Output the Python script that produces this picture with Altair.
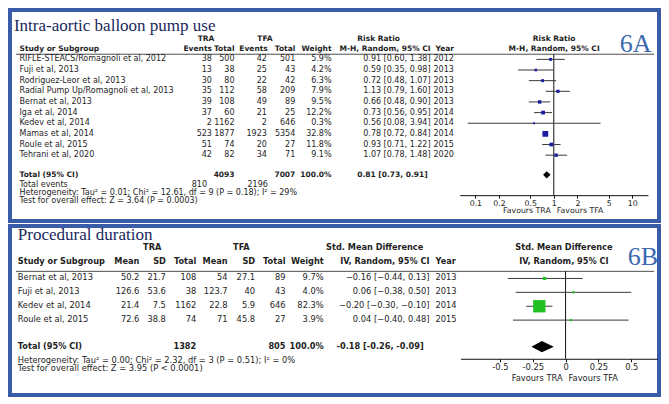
import altair as alt
import pandas as pd

# ---------------- data: panel A (Intra-aortic balloon pump use) ----------------
a_study = ["RIFLE-STEACS/Romagnoli et al, 2012", "Fuji et al, 2013", "Rodriguez-Leor et al, 2013",
           "Radial Pump Up/Romagnoli et al, 2013", "Bernat et al, 2013", "Iga et al, 2014",
           "Kedev et al, 2014", "Mamas et al, 2014", "Roule et al, 2015", "Tehrani et al, 2020"]
a_tra_events = [38, 13, 30, 35, 39, 37, 2, 523, 51, 42]
a_tra_total = [500, 38, 80, 112, 108, 60, 1162, 1877, 74, 82]
a_tfa_events = [42, 25, 22, 58, 49, 21, 2, 1923, 20, 34]
a_tfa_total = [501, 43, 42, 209, 89, 25, 646, 5354, 27, 71]
a_weight = [5.9, 4.2, 6.3, 7.9, 9.5, 12.2, 0.3, 32.8, 11.8, 9.1]
a_rr = [0.91, 0.59, 0.72, 1.13, 0.66, 0.73, 0.56, 0.78, 0.93, 1.07]
a_lo = [0.60, 0.35, 0.48, 0.79, 0.48, 0.56, 0.08, 0.72, 0.71, 0.78]
a_hi = [1.38, 0.98, 1.07, 1.60, 0.90, 0.95, 3.94, 0.84, 1.22, 1.48]
a_year = [2012, 2013, 2013, 2013, 2013, 2014, 2014, 2014, 2015, 2020]
a_sum_tra_total, a_sum_tfa_total = 4093, 7007
a_sum_tra_events, a_sum_tfa_events = 810, 2196
a_pooled = [0.81, 0.73, 0.91]
a_het = "Heterogeneity: Tau² = 0.01; Chi² = 12.61, df = 9 (P = 0.18); I² = 29%"
a_test = "Test for overall effect: Z = 3.64 (P = 0.0003)"
a_ticks = [0.1, 0.2, 0.5, 1, 2, 5, 10]

# ---------------- data: panel B (Procedural duration) ----------------
b_study = ["Bernat et al, 2013", "Fuji et al, 2013", "Kedev et al, 2014", "Roule et al, 2015"]
b_tra_mean = [50.2, 126.6, 21.4, 72.6]
b_tra_sd = [21.7, 53.6, 7.5, 38.8]
b_tra_n = [108, 38, 1162, 74]
b_tfa_mean = [54, 123.7, 22.8, 71]
b_tfa_sd = [27.1, 40, 5.9, 45.8]
b_tfa_n = [89, 43, 646, 27]
b_weight = [9.7, 4.0, 82.3, 3.9]
b_smd = [-0.16, 0.06, -0.20, 0.04]
b_lo = [-0.44, -0.38, -0.30, -0.40]
b_hi = [0.13, 0.50, -0.10, 0.48]
b_year = [2013, 2013, 2014, 2015]
b_sum_tra_n, b_sum_tfa_n = 1382, 805
b_pooled = [-0.18, -0.26, -0.09]
b_het = "Heterogeneity: Tau² = 0.00; Chi² = 2.32, df = 3 (P = 0.51); I² = 0%"
b_test = "Test for overall effect: Z = 3.95 (P < 0.0001)"
b_ticks = [-0.5, -0.25, 0, 0.25, 0.5]

# ---------------- layout / style ----------------
SANS = "DejaVu Sans"
SERIF = "Liberation Serif"
INK = "#1e1e1e"
W = 649
HA, HB = 211, 169
XS = alt.Scale(domain=[2, 664], range=[0, W], nice=False, zero=False)
YA = alt.Scale(domain=[2, 220], range=[0, HA], nice=False, zero=False)
YB = alt.Scale(domain=[226, 400], range=[0, HB], nice=False, zero=False)
sx = W / 662.0

STYLES = {
    "a": dict(font=SANS, fontSize=8.0, color=INK),
    "ab": dict(font=SANS, fontSize=7.5, fontWeight="bold", color=INK),
    "b": dict(font=SANS, fontSize=8.3, color=INK),
    "bb": dict(font=SANS, fontSize=8.2, fontWeight="bold", color=INK),
    "title": dict(font=SERIF, fontSize=17, color="#18285e", baseline="alphabetic"),
    "tag": dict(font=SERIF, fontSize=26, color="#3b68b0", baseline="alphabetic"),
}


def num(v):
    return f"{v:g}"


def pct(v):
    return f"{v:.1f}%"


def ci(e, l, h, minus="\u2212"):
    return f"{e:.2f} [{l:.2f}, {h:.2f}]".replace("-", minus)


def text_layers(cells, YS):
    df = pd.DataFrame(cells, columns=["x", "y", "t", "align", "style"])
    layers = []
    for (al, st), g in df.groupby(["align", "style"], sort=False):
        s = dict(STYLES[st])
        base = s.pop("baseline", "middle")
        layers.append(
            alt.Chart(g[["x", "y", "t"]].reset_index(drop=True))
            .mark_text(align=al, baseline=base, **s)
            .encode(x=alt.X("x:Q", scale=XS, axis=None),
                    y=alt.Y("y:Q", scale=YS, axis=None),
                    text=alt.Text("t:N"))
        )
    return layers


def rules_layer(rows, YS):
    df = pd.DataFrame(rows, columns=["x", "x2", "y"])
    return alt.Chart(df).mark_rule(color="#222222", strokeWidth=0.8).encode(
        x=alt.X("x:Q", scale=XS, axis=None), x2="x2:Q", y=alt.Y("y:Q", scale=YS, axis=None))


def forest_layers(est, lo, hi, w, ys, pooled, ytot, dh, null, FS, YS, color, size_scale,
                  ticks, axis_offset, yline, fav_y, fsize):
    df = pd.DataFrame({"est": est, "lo": lo, "hi": hi, "w": w, "y": ys})
    ci_l = alt.Chart(df).mark_rule(color="#3a3a3a", strokeWidth=1).encode(
        x=alt.X("lo:Q", scale=FS, axis=None), x2="hi:Q", y=alt.Y("y:Q", scale=YS, axis=None))
    sq = alt.Chart(df).mark_square(filled=True, color=color, opacity=1).encode(
        x=alt.X("est:Q", scale=FS, axis=None), y=alt.Y("y:Q", scale=YS, axis=None),
        size=alt.Size("w:Q", scale=size_scale, legend=None))
    nl = alt.Chart(pd.DataFrame({"v": [null], "y1": [yline[0]], "y2": [yline[1]]})).mark_rule(
        color="#111111", strokeWidth=1).encode(
        x=alt.X("v:Q", scale=FS, axis=alt.Axis(
            values=ticks, labelExpr="'' + datum.value", offset=axis_offset, orient="bottom",
            title=None, grid=False, domainColor="#111111", tickColor="#111111", tickSize=3,
            domainWidth=1, tickWidth=1, labelFont=SANS, labelFontSize=fsize, labelColor=INK,
            labelPadding=1, labelFlush=False, labelOverlap=False)),
        y=alt.Y("y1:Q", scale=YS, axis=None), y2="y2:Q")
    e, l, h = pooled
    dm = pd.DataFrame({"x": [l, e, h], "yt": [ytot, ytot - dh, ytot], "yb": [ytot, ytot + dh, ytot]})
    dia = alt.Chart(dm).mark_area(color="black", opacity=1).encode(
        x=alt.X("x:Q", scale=FS, axis=None), y=alt.Y("yt:Q", scale=YS, axis=None), y2="yb:Q")
    fav_l = alt.Chart(pd.DataFrame({"x": [null], "y": [fav_y], "t": ["Favours TRA"]})).mark_text(
        align="right", baseline="middle", dx=-3, font=SANS, fontSize=fsize, color=INK).encode(
        x=alt.X("x:Q", scale=FS, axis=None), y=alt.Y("y:Q", scale=YS, axis=None), text="t:N")
    fav_r = alt.Chart(pd.DataFrame({"x": [null], "y": [fav_y], "t": ["Favours TFA"]})).mark_text(
        align="left", baseline="middle", dx=3, font=SANS, fontSize=fsize, color=INK).encode(
        x=alt.X("x:Q", scale=FS, axis=None), y=alt.Y("y:Q", scale=YS, axis=None), text="t:N")
    return [nl, ci_l, sq, dia, fav_l, fav_r]


# ---------------- panel A ----------------
a_y = [53.0 + 11.0 * i for i in range(len(a_study))]
ca = []
ca.append((6, 23.5, "Intra-aortic balloon pump use", "left", "title"))
ca.append((624, 45, "6A", "left", "tag"))
for x, t in [(202, "TRA"), (262, "TFA"), (378, "Risk Ratio"), (557, "Risk Ratio")]:
    ca.append((x, 32, t, "center", "ab"))
ca.append((11.7, 42, "Study or Subgroup", "left", "ab"))
for x, t in [(208, "Events"), (231, "Total"), (265, "Events"), (293, "Total"), (330, "Weight"),
             (431, "M-H, Random, 95% CI")]:
    ca.append((x, 42, t, "right", "ab"))
ca.append((436, 42, "Year", "left", "ab"))
ca.append((557, 42, "M-H, Random, 95% CI", "center", "ab"))
for i, y in enumerate(a_y):
    ca.append((11.7, y, a_study[i], "left", "a"))
    ca.append((208, y, num(a_tra_events[i]), "right", "a"))
    ca.append((231, y, num(a_tra_total[i]), "right", "a"))
    ca.append((264, y, num(a_tfa_events[i]), "right", "a"))
    ca.append((293, y, num(a_tfa_total[i]), "right", "a"))
    ca.append((330, y, pct(a_weight[i]), "right", "a"))
    ca.append((431, y, ci(a_rr[i], a_lo[i], a_hi[i]), "right", "a"))
    ca.append((434, y, str(a_year[i]), "left", "a"))
ya_tot = 172.3
ca.append((11.7, ya_tot, "Total (95% CI)", "left", "ab"))
ca.append((231, ya_tot, num(a_sum_tra_total), "right", "ab"))
ca.append((293, ya_tot, num(a_sum_tfa_total), "right", "ab"))
ca.append((330, ya_tot, pct(100.0), "right", "ab"))
ca.append((428, ya_tot, ci(*a_pooled), "right", "ab"))
ca.append((11.7, 183.3, "Total events", "left", "a"))
ca.append((203, 183.3, num(a_sum_tra_events), "right", "a"))
ca.append((265, 183.3, num(a_sum_tfa_events), "right", "a"))
ca.append((11.7, 191.3, a_het, "left", "a"))
ca.append((11.7, 199.3, a_test, "left", "a"))

FA = alt.Scale(type="log", domain=[10 ** -1.2, 10 ** 1.2],
               range=[(460.7 - 2) * sx, (652.7 - 2) * sx], nice=False, zero=False)
la = [rules_layer([(8, 659, 47.7)], YA)]
la += forest_layers(a_rr, a_lo, a_hi, a_weight, a_y, a_pooled, ya_tot, 3.8, 1, FA, YA, "#1c1ca0",
                    alt.Scale(domain=[0, 100], range=[3, 95]), a_ticks,
                    -(HA - (193.3 - 2) * HA / 218.0), (47.7, 193.3), 210, 7.8)
la += text_layers(ca, YA)
panel_a = alt.layer(*la).properties(width=W, height=HA).resolve_scale(x="independent", size="independent")

# ---------------- panel B ----------------
b_y = [280.0 + 14.3 * i for i in range(len(b_study))]
cb = []
cb.append((10, 240, "Procedural duration", "left", "title"))
cb.append((632, 266.5, "6B", "left", "tag"))
for x, t in [(147, "TRA"), (238, "TFA"), (374, "Std. Mean Difference"), (567, "Std. Mean Difference")]:
    cb.append((x, 249, t, "center", "bb"))
cb.append((10, 263, "Study or Subgroup", "left", "bb"))
for x, t in [(134, "Mean"), (161, "SD"), (192, "Total"), (224, "Mean"), (252, "SD"), (283, "Total"),
             (322, "Weight"), (430, "IV, Random, 95% CI")]:
    cb.append((x, 263, t, "right", "bb"))
cb.append((436, 263, "Year", "left", "bb"))
cb.append((567, 263, "IV, Random, 95% CI", "center", "bb"))
for i, y in enumerate(b_y):
    cb.append((10, y, b_study[i], "left", "b"))
    cb.append((134, y, num(b_tra_mean[i]), "right", "b"))
    cb.append((161, y, num(b_tra_sd[i]), "right", "b"))
    cb.append((192, y, num(b_tra_n[i]), "right", "b"))
    cb.append((224, y, num(b_tfa_mean[i]), "right", "b"))
    cb.append((252, y, num(b_tfa_sd[i]), "right", "b"))
    cb.append((283, y, num(b_tfa_n[i]), "right", "b"))
    cb.append((322, y, pct(b_weight[i]), "right", "b"))
    cb.append((430, y, ci(b_smd[i], b_lo[i], b_hi[i]), "right", "b"))
    cb.append((436, y, str(b_year[i]), "left", "b"))
yb_tot = 350.3
cb.append((10, yb_tot, "Total (95% CI)", "left", "bb"))
cb.append((192, yb_tot, num(b_sum_tra_n), "right", "bb"))
cb.append((283, yb_tot, num(b_sum_tfa_n), "right", "bb"))
cb.append((322, yb_tot, pct(100.0), "right", "bb"))
cb.append((424, yb_tot, ci(*b_pooled, minus="-"), "right", "bb"))
cb.append((10, 364.5, b_het, "left", "b"))
cb.append((10, 373.5, b_test, "left", "b"))

FB = alt.Scale(domain=[-0.8, 0.7], range=[(461.5 - 2) * sx, (662.5 - 2) * sx], nice=False, zero=False)
lb = [rules_layer([(8, 659, 272.7)], YB)]
lb += forest_layers(b_smd, b_lo, b_hi, b_weight, b_y, b_pooled, yb_tot, 5.8, 0, FB, YB, "#22c022",
                    alt.Scale(type="pow", exponent=1.4, domain=[0, 100], range=[3, 200]), b_ticks,
                    -(HB - (362.7 - 226) * HB / 174.0), (272.7, 362.7), 384, 8.3)
lb += text_layers(cb, YB)
panel_b = alt.layer(*lb).properties(width=W, height=HB).resolve_scale(x="independent", size="independent")

chart = (
    alt.vconcat(panel_a, panel_b, spacing=0)
    .properties(padding=0, background="white")
    .configure_view(stroke="#3a5ca8", strokeWidth=4)
)

chart.save("out.html", embed_options={"renderer": "svg", "actions": False})
